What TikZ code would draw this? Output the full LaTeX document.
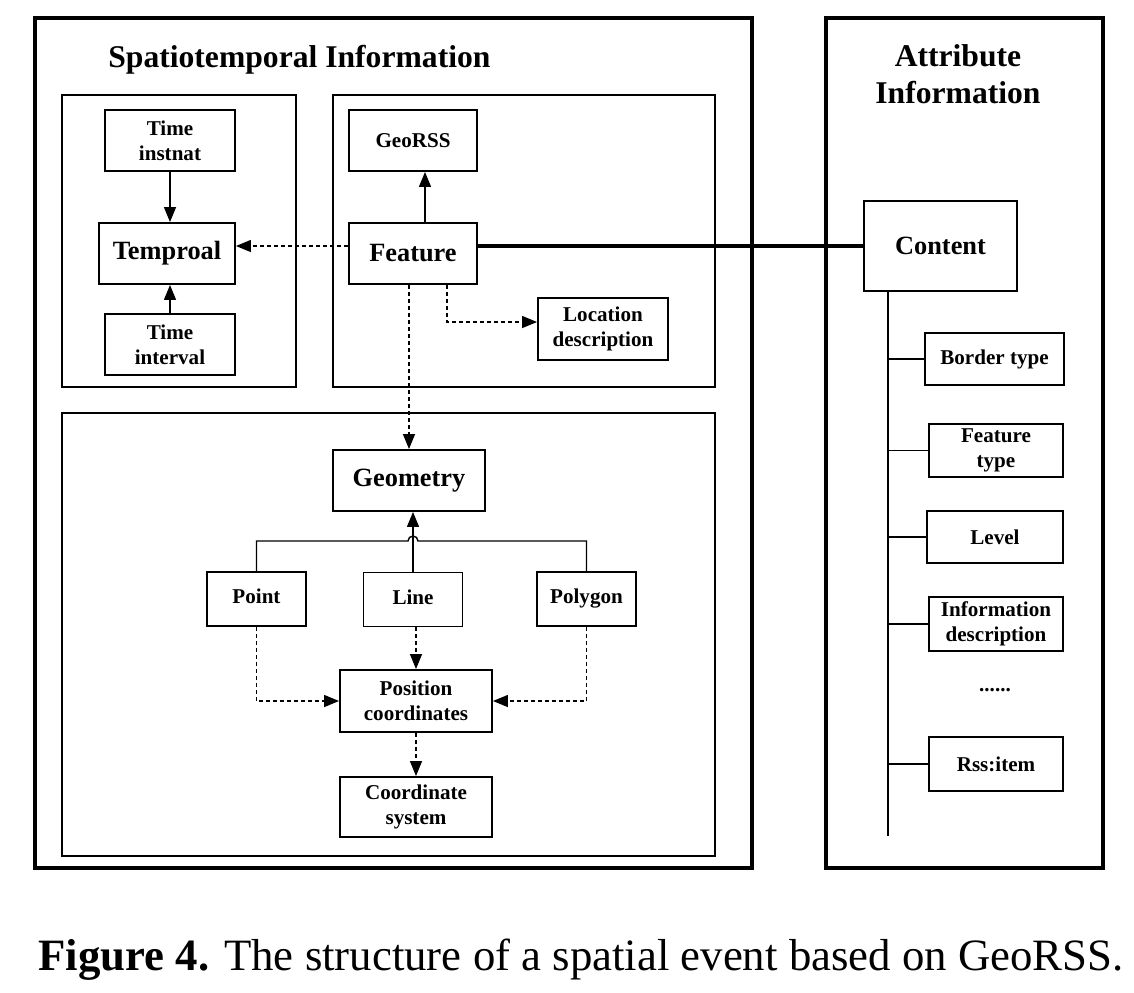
\documentclass[tikz,border=0pt]{standalone}
\usepackage{fontspec}
\setmainfont{Liberation Serif}
\usetikzlibrary{arrows.meta}

\begin{document}
\begin{tikzpicture}[x=0.02cm,y=-0.02cm,
    box/.style={draw,line width=1.1pt,align=center,inner sep=0pt,
      font=\bfseries\fontsize{12}{14}\selectfont},
    bigbox/.style={box,font=\bfseries\fontsize{15}{17}\selectfont},
    geobox/.style={box,minimum width=1.98cm,minimum height=1.08cm,
      text height=1.6ex,text depth=0.4ex},
    headtext/.style={align=center,inner sep=0pt,
      font=\bfseries\fontsize{18}{21}\selectfont},
    outerframe/.style={line width=2.3pt},
    subframe/.style={line width=0.85pt},
    arr/.style={-{Triangle[length=0.3cm,width=0.24cm]},line width=0.8pt},
    darr/.style={arr,dash pattern=on 0.08cm off 0.06cm}]
  \useasboundingbox (0,0) rectangle (1134,992);
  % frames
  \draw[outerframe] (35,18) rectangle (752,868);
  \draw[outerframe] (826,18) rectangle (1103,868);
  \draw[subframe] (62,95) rectangle (296,387);
  \draw[subframe] (333,95) rectangle (715,387);
  \draw[subframe] (62,413) rectangle (715,856);
  \path
    (108,67) node[headtext,anchor=base west] (stitle){Spatiotemporal Information}
    (958,74) node[headtext] (atitle){Attribute\\Information}
    (170,140.5) node[box,minimum width=2.6cm,minimum height=1.22cm] (tinst){Time\\instnat}
    (167,253.5) node[bigbox,minimum width=2.72cm,minimum height=1.22cm] (tempo){Temproal}
    (170,344.5) node[box,minimum width=2.6cm,minimum height=1.22cm] (tintv){Time\\interval}
    (413,140.5) node[box,minimum width=2.56cm,minimum height=1.22cm] (georss){GeoRSS}
    (413,253.5) node[bigbox,minimum width=2.56cm,minimum height=1.22cm] (feat){Feature}
    (603,329) node[box,minimum width=2.6cm,minimum height=1.24cm] (locdesc){Location\\description}
    (409,480.5) node[bigbox,minimum width=3.04cm,minimum height=1.22cm] (geom){Geometry}
    (256.5,599) node[geobox] (point){Point}
    (413,599.5) node[geobox] (line){Line}
    (586.5,599) node[geobox] (poly){Polygon}
    (416,701) node[box,minimum width=3.04cm,minimum height=1.24cm] (posc){Position\\coordinates}
    (416,807) node[box,minimum width=3.04cm,minimum height=1.2cm] (csys){Coordinate\\system}
    (940.5,246) node[bigbox,minimum width=3.06cm,minimum height=1.8cm] (content){Content}
    (994.5,359) node[box,minimum width=2.78cm,minimum height=1.04cm] (border){Border type}
    (996,450.5) node[box,minimum width=2.68cm,minimum height=1.06cm] (ftype){Feature\\type}
    (995,537) node[box,minimum width=2.72cm,minimum height=1.04cm] (level){Level}
    (996,624) node[box,minimum width=2.68cm,minimum height=1.08cm] (infod){Information\\description}
    (995,690) node[font=\bfseries\fontsize{12}{14}\selectfont,inner sep=0pt] (dots){......}
    (996,764) node[box,minimum width=2.68cm,minimum height=1.08cm] (rss){Rss:item}
    (38,970) node[anchor=base west,inner sep=0pt,font=\fontsize{25.5}{30}\selectfont] (caption){\textbf{Figure 4.} The structure of a spatial event based on GeoRSS.};
  \coordinate (bar) at (409,541);
  \coordinate (trunk) at (888,836);
  \begin{scope}[arr]
    \draw (tinst) -- (tinst |- tempo.north);
    \draw (tintv) -- (tintv |- tempo.south);
    \draw ([xshift=0.24cm]feat.north) -- ([xshift=0.24cm]georss.south);
    \draw (line.north) -- (line.north |- geom.south);
  \end{scope}
  \begin{scope}[darr]
    \draw ([yshift=0.15cm]feat.west) -- ([yshift=0.15cm]tempo.east);
    \draw ([xshift=0.68cm]feat.south) |- ([yshift=0.14cm]locdesc.west);
    \draw (feat.south -| geom) -- (geom.north);
    \draw (line.south -| posc) -- (posc.north);
    \draw (point.south) |- (posc.west);
    \draw (poly.south) |- (posc.east);
    \draw (posc.south) -- (csys.north);
  \end{scope}
  \draw[line width=0.8pt] (point.north) |- ([xshift=-0.1cm]line.north |- bar)
    arc[start angle=180,end angle=0,radius=0.1cm] -| (poly.north);
  \draw[line width=2.6pt] (feat.east |- content.west) -- (content.west);
  \draw[line width=0.8pt] (content.south -| trunk) -- (trunk);
  \foreach \b in {border,ftype,level,infod,rss}
    \draw[line width=0.8pt] (\b.west -| trunk) -- (\b.west);
\end{tikzpicture}
\end{document}
